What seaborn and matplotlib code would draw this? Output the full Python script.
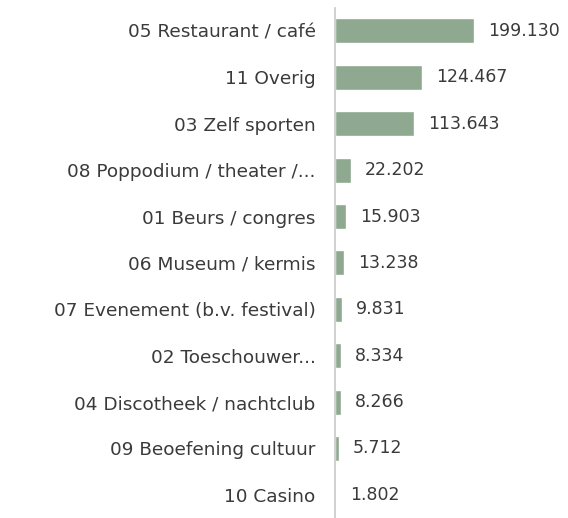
import seaborn as sns
import matplotlib.pyplot as plt
import pandas as pd

categories = [
    "05 Restaurant / café",
    "11 Overig",
    "03 Zelf sporten",
    "08 Poppodium / theater /...",
    "01 Beurs / congres",
    "06 Museum / kermis",
    "07 Evenement (b.v. festival)",
    "02 Toeschouwer...",
    "04 Discotheek / nachtclub",
    "09 Beoefening cultuur",
    "10 Casino",
]
values = [199.130, 124.467, 113.643, 22.202, 15.903, 13.238, 9.831, 8.334, 8.266, 5.712, 1.802]
value_labels = ["199.130", "124.467", "113.643", "22.202", "15.903", "13.238",
                "9.831", "8.334", "8.266", "5.712", "1.802"]

df = pd.DataFrame({"category": categories, "value": values})

sns.set_style("white")
plt.rcParams['font.family'] = ['DejaVu Sans']

fig = plt.figure(figsize=(5.68, 5.18), dpi=100)
ax = fig.add_axes([0.59, 0.0, 0.41, 0.985])

sns.barplot(data=df, x="value", y="category", color="#8fa890", width=0.54,
            saturation=1, ax=ax)

# value labels to the right of each bar
for i, (v, lab) in enumerate(zip(values, value_labels)):
    ax.annotate(lab, (v, i), xytext=(10, 0), textcoords="offset points",
                va="center", ha="left", fontsize=12.5, color="#3a3a3a")

ax.set_xlim(0, 334)
ax.set_ylim(10.5, -0.5)
ax.set_xlabel("")
ax.set_ylabel("")
ax.set_xticks([])
ax.tick_params(axis="y", length=0, pad=14, labelsize=13.3, labelcolor="#3a3a3a")
for side in ["top", "right", "bottom"]:
    ax.spines[side].set_visible(False)
ax.spines["left"].set_color("#c8c8c8")
ax.spines["left"].set_linewidth(1.2)

plt.savefig("out.png", dpi=100)
